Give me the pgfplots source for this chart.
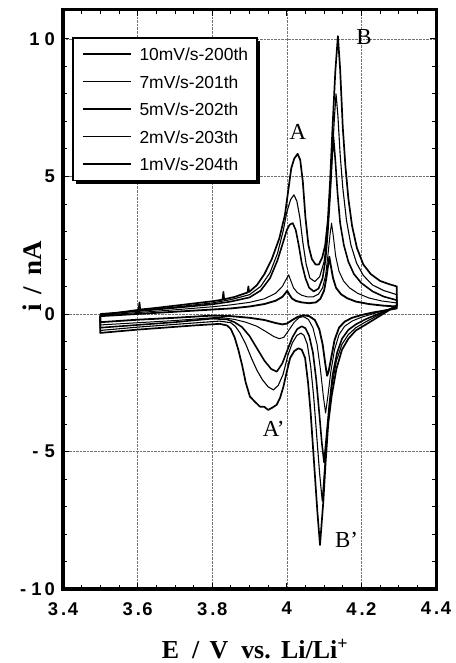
\documentclass[border=0pt]{standalone}
\usepackage{fontspec}
\setmainfont{Liberation Serif}
\setsansfont{Liberation Sans}
\usepackage{pgfplots}
\pgfplotsset{compat=1.18}
\usetikzlibrary{shadows}
\makeatletter
\tikzset{no preactions/.code={\let\tikz@preactions=\pgfutil@empty}}
\makeatother
\begin{document}
\begin{tikzpicture}
\path[use as bounding box] (0,0) rectangle (456bp,663bp);
\begin{axis}[
  at={(63bp,74bp)}, anchor=south west,
  scale only axis, width=373bp, height=579bp,
  xmin=3.4, xmax=4.4, ymin=-10, ymax=11.05,
  xtick={3.4,3.6,3.8,4.0,4.2,4.4},
  xticklabels={{3\hspace{3bp}.\hspace{1.5bp}4},{3\hspace{3bp}.\hspace{1.5bp}6},{3\hspace{3bp}.\hspace{1.5bp}8},4,{4\hspace{3bp}.\hspace{1.5bp}2},{4\hspace{3bp}.\hspace{1.5bp}4}},
  ytick={-10,-5,0,5,10},
  yticklabels={{\raisebox{-6bp}{-\hspace{5bp}1\hspace{3bp}0}},{\raisebox{-3bp}{-\hspace{6bp}5}},0,5,{\raisebox{-4bp}{1\hspace{5bp}0}}},
  minor x tick num=3, minor y tick num=4,
  tick align=inside,
  major tick length=6bp, minor tick length=4bp,
  every tick/.style={line width=0.8bp, black},
  axis line style={line width=3bp},
  grid=major,
  major grid style={densely dotted, line width=0.5bp, black!55},
  tick label style={font=\fontsize{18.5}{18.5}\selectfont\sffamily\bfseries},
  xticklabel style={inner sep=0pt, anchor=north, yshift=-13bp},
  yticklabel style={inner sep=0pt, anchor=east, xshift=-8bp},
  xlabel={E\hspace{0.5em}/\hspace{0.4em}V\hspace{0.5em}vs.\hspace{0.4em}Li/Li\textsuperscript{+}},
  ylabel={i\hspace{0.35em}/\hspace{0.45em}nA},
  x label style={at={(axis description cs:0.5147,0)}, anchor=base, yshift=-69bp, font=\fontsize{26}{26}\selectfont\bfseries},
  y label style={at={(axis description cs:-0.083,0.54)}, anchor=center, font=\fontsize{27}{27}\selectfont\bfseries},
  legend style={at={(0.024,0.953)}, anchor=north west, draw=black, line width=1.6bp, fill=white,
    drop shadow={shadow xshift=3bp, shadow yshift=-3bp, fill=black, opacity=1},
    font=\fontsize{17.5}{17.5}\selectfont\sffamily,
    inner xsep=9bp, inner ysep=10bp, row sep=15bp, column sep=8bp,
    nodes={inner sep=0bp, text height=12.5bp, text depth=0bp}},
  legend cell align=left,
  legend image code/.code={\draw[no preactions, #1] (0bp,0bp) -- (48bp,0bp);},
  every axis plot/.append style={black, line join=round},
]
% 10 mV/s
\addplot[line width=1.7bp] coordinates {
(3.5,-0.05) (3.55,0.05) (3.603,0.15) (3.605,0.42) (3.607,0.16) (3.65,0.22) (3.7,0.3) (3.75,0.38) (3.8,0.46) (3.828,0.52) (3.83,0.8) (3.832,0.53) (3.86,0.62) (3.895,0.78) (3.897,1.0) (3.899,0.8) (3.92,1.05) (3.94,1.45) (3.96,2.0) (3.98,2.75) (3.995,3.6) (4.005,4.6) (4.012,5.3) (4.02,5.65) (4.029,5.82) (4.036,5.6) (4.043,4.8) (4.05,3.5) (4.058,2.5) (4.067,2.0) (4.077,1.8) (4.086,1.8) (4.095,2.05) (4.103,2.5) (4.11,3.4) (4.116,4.8) (4.122,6.6) (4.13,8.8) (4.137,10.1) (4.143,8.9) (4.15,6.8) (4.157,5.4) (4.165,4.2) (4.175,3.2) (4.188,2.4) (4.205,1.8) (4.225,1.45) (4.25,1.2) (4.275,1.08) (4.295,1.0)
(4.295,0.32) (4.27,0.1) (4.24,-0.15) (4.21,-0.4) (4.185,-0.6) (4.165,-0.9) (4.148,-1.3) (4.133,-2.0) (4.12,-3.0) (4.111,-4.0) (4.104,-5.4) (4.098,-6.8) (4.089,-8.4) (4.082,-7.2) (4.076,-6.0) (4.071,-5.0) (4.064,-3.6) (4.057,-2.5) (4.049,-1.6) (4.04,-1.3) (4.031,-1.25) (4.02,-1.35) (4.009,-1.6) (4.0,-2.1) (3.991,-2.64) (3.982,-3.05) (3.973,-3.3) (3.962,-3.4) (3.95,-3.49) (3.94,-3.38) (3.928,-3.37) (3.915,-3.2) (3.901,-3.0) (3.89,-2.5) (3.88,-1.85) (3.87,-1.3) (3.86,-0.85) (3.85,-0.55) (3.84,-0.42) (3.82,-0.36) (3.75,-0.42) (3.7,-0.47) (3.6,-0.57) (3.5,-0.69) (3.5,-0.05)
};
\addlegendentry{10mV/s-200th}
% 7 mV/s
\addplot[line width=1.1bp] coordinates {
(3.5,-0.03) (3.6,0.12) (3.7,0.25) (3.8,0.4) (3.85,0.52) (3.9,0.7) (3.93,1.0) (3.955,1.5) (3.975,2.2) (3.99,3.0) (4.0,3.7) (4.01,4.15) (4.019,4.33) (4.027,4.1) (4.035,3.5) (4.043,2.6) (4.052,1.8) (4.062,1.3) (4.075,1.18) (4.088,1.35) (4.1,1.9) (4.108,2.8) (4.115,4.2) (4.122,5.8) (4.128,7.2) (4.132,8.0) (4.137,7.2) (4.143,5.8) (4.15,4.6) (4.16,3.4) (4.172,2.5) (4.187,1.85) (4.205,1.4) (4.23,1.05) (4.26,0.85) (4.295,0.7)
(4.295,0.3) (4.27,0.12) (4.24,-0.08) (4.21,-0.3) (4.185,-0.5) (4.165,-0.75) (4.148,-1.1) (4.133,-1.7) (4.12,-2.7) (4.11,-4.0) (4.103,-5.3) (4.095,-6.8) (4.088,-5.8) (4.08,-4.4) (4.072,-3.0) (4.064,-1.9) (4.055,-1.1) (4.046,-0.78) (4.038,-0.7) (4.027,-0.78) (4.015,-1.05) (4.003,-1.5) (3.99,-2.2) (3.977,-2.6) (3.964,-2.76) (3.95,-2.65) (3.935,-2.4) (3.92,-2.05) (3.905,-1.6) (3.89,-1.1) (3.875,-0.7) (3.862,-0.45) (3.85,-0.32) (3.82,-0.26) (3.7,-0.38) (3.6,-0.48) (3.5,-0.6) (3.5,-0.03)
};
\addlegendentry{7mV/s-201th}
% 5 mV/s
\addplot[line width=1.6bp] coordinates {
(3.5,0.0) (3.6,0.1) (3.7,0.22) (3.8,0.35) (3.85,0.45) (3.9,0.6) (3.93,0.85) (3.955,1.3) (3.975,1.95) (3.99,2.6) (4.0,3.05) (4.008,3.25) (4.016,3.3) (4.024,3.05) (4.032,2.5) (4.04,1.85) (4.05,1.3) (4.06,0.95) (4.072,0.82) (4.085,0.92) (4.096,1.3) (4.104,2.0) (4.11,3.0) (4.116,4.3) (4.121,5.6) (4.125,6.45) (4.13,5.6) (4.136,4.4) (4.143,3.3) (4.153,2.5) (4.165,1.9) (4.18,1.45) (4.2,1.12) (4.23,0.82) (4.26,0.63) (4.295,0.5)
(4.295,0.28) (4.27,0.14) (4.24,-0.03) (4.21,-0.2) (4.185,-0.38) (4.165,-0.58) (4.148,-0.9) (4.135,-1.4) (4.123,-2.2) (4.114,-3.3) (4.106,-4.5) (4.1,-5.4) (4.094,-4.7) (4.087,-3.6) (4.079,-2.4) (4.07,-1.4) (4.06,-0.8) (4.05,-0.52) (4.04,-0.45) (4.028,-0.55) (4.015,-0.85) (4.002,-1.3) (3.988,-1.8) (3.973,-2.1) (3.958,-2.0) (3.94,-1.7) (3.92,-1.25) (3.9,-0.8) (3.88,-0.48) (3.86,-0.3) (3.84,-0.2) (3.8,-0.17) (3.7,-0.3) (3.6,-0.4) (3.5,-0.5) (3.5,0.0)
};
\addlegendentry{5mV/s-202th}
% 2 mV/s
\addplot[line width=1.0bp] coordinates {
(3.5,-0.05) (3.6,0.05) (3.7,0.15) (3.8,0.26) (3.85,0.33) (3.9,0.42) (3.94,0.55) (3.97,0.75) (3.988,1.0) (3.998,1.25) (4.005,1.42) (4.011,1.2) (4.018,0.95) (4.028,0.78) (4.04,0.68) (4.055,0.62) (4.07,0.62) (4.085,0.72) (4.096,0.95) (4.104,1.4) (4.11,2.1) (4.116,2.9) (4.12,3.3) (4.125,2.8) (4.131,2.1) (4.14,1.55) (4.152,1.2) (4.168,0.95) (4.19,0.75) (4.22,0.58) (4.255,0.47) (4.295,0.4)
(4.295,0.25) (4.26,0.12) (4.23,0.0) (4.2,-0.12) (4.175,-0.26) (4.155,-0.45) (4.14,-0.75) (4.128,-1.3) (4.118,-2.1) (4.11,-3.0) (4.104,-3.6) (4.098,-3.0) (4.09,-2.0) (4.081,-1.1) (4.07,-0.5) (4.058,-0.2) (4.045,-0.1) (4.033,-0.13) (4.02,-0.3) (4.005,-0.6) (3.992,-0.85) (3.98,-0.9) (3.965,-0.82) (3.945,-0.65) (3.92,-0.45) (3.89,-0.3) (3.86,-0.2) (3.82,-0.12) (3.7,-0.24) (3.6,-0.32) (3.5,-0.4) (3.5,-0.05)
};
\addlegendentry{2mV/s-203th}
% 1 mV/s
\addplot[line width=1.8bp] coordinates {
(3.5,-0.08) (3.6,0.0) (3.7,0.08) (3.8,0.16) (3.85,0.2) (3.9,0.27) (3.94,0.36) (3.97,0.48) (3.988,0.62) (3.996,0.75) (4.001,0.84) (4.007,0.7) (4.014,0.56) (4.025,0.47) (4.04,0.42) (4.06,0.39) (4.078,0.42) (4.09,0.55) (4.1,0.85) (4.106,1.3) (4.111,1.8) (4.114,2.08) (4.118,1.75) (4.124,1.3) (4.132,0.95) (4.145,0.72) (4.162,0.57) (4.185,0.45) (4.22,0.36) (4.26,0.3) (4.295,0.27)
(4.295,0.2) (4.26,0.12) (4.23,0.05) (4.2,-0.04) (4.175,-0.14) (4.155,-0.28) (4.14,-0.5) (4.128,-0.95) (4.119,-1.6) (4.112,-2.1) (4.108,-2.25) (4.103,-1.8) (4.096,-1.1) (4.087,-0.55) (4.075,-0.22) (4.06,-0.08) (4.045,-0.05) (4.03,-0.1) (4.015,-0.22) (4.0,-0.35) (3.988,-0.38) (3.97,-0.33) (3.94,-0.22) (3.9,-0.14) (3.85,-0.08) (3.8,-0.06) (3.7,-0.14) (3.6,-0.21) (3.5,-0.3) (3.5,-0.08)
};
\addlegendentry{1mV/s-204th}
\node[font=\fontsize{23}{23}\selectfont] at (axis cs:4.030,6.62) {A};
\node[font=\fontsize{23}{23}\selectfont] at (axis cs:4.207,10.07) {B};
\node[font=\fontsize{23}{23}\selectfont] at (axis cs:3.965,-4.18) {A'};
\node[font=\fontsize{23}{23}\selectfont] at (axis cs:4.160,-8.2) {B'};
\end{axis}
\end{tikzpicture}
\end{document}
